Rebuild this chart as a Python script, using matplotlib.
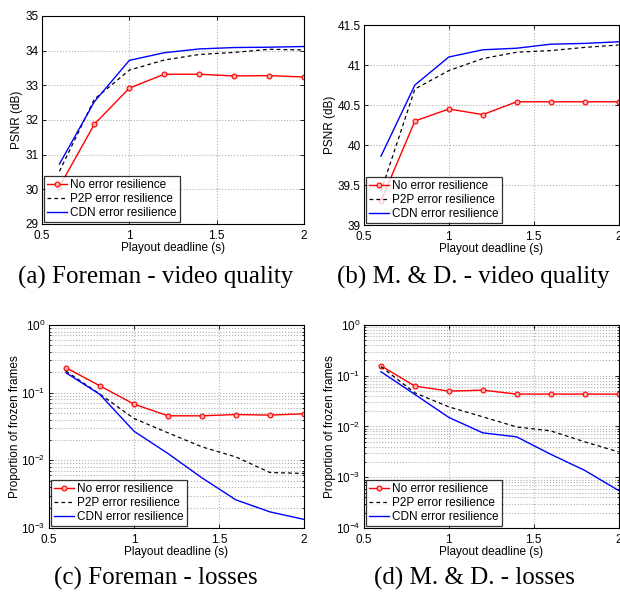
import numpy as np
import matplotlib.pyplot as plt
from matplotlib.ticker import FuncFormatter, LogLocator

plt.rcParams['font.family'] = ['Liberation Sans', 'DejaVu Sans']
plt.rcParams['mathtext.fontset'] = 'custom'
plt.rcParams['mathtext.rm'] = 'Liberation Sans'

# Playout deadlines (s)
deadline = [0.6, 0.8, 1.0, 1.2, 1.4, 1.6, 1.8, 2.0]

# (a) Foreman - PSNR (dB)
foreman_psnr_none = [30.08, 31.88, 32.92, 33.32, 33.32, 33.27, 33.28, 33.24]
foreman_psnr_p2p = [30.52, 32.60, 33.44, 33.73, 33.89, 33.95, 34.04, 34.02]
foreman_psnr_cdn = [30.73, 32.53, 33.72, 33.94, 34.05, 34.09, 34.10, 34.12]

# (b) M. & D. - PSNR (dB)
md_psnr_none = [39.30, 40.30, 40.45, 40.38, 40.54, 40.54, 40.54, 40.54]
md_psnr_p2p = [39.42, 40.70, 40.93, 41.08, 41.16, 41.18, 41.22, 41.25]
md_psnr_cdn = [39.86, 40.75, 41.10, 41.19, 41.21, 41.26, 41.27, 41.29]

# (c) Foreman - proportion of frozen frames
foreman_loss_none = [0.233, 0.126, 0.0676, 0.0455, 0.0455, 0.0475, 0.0466, 0.0487]
foreman_loss_p2p = [0.208, 0.095, 0.0415, 0.0255, 0.0158, 0.0112, 0.0066, 0.0064]
foreman_loss_cdn = [0.197, 0.094, 0.0269, 0.0126, 0.0055, 0.0026, 0.00173, 0.00134]

# (d) M. & D. - proportion of frozen frames
md_loss_none = [0.157, 0.0625, 0.0498, 0.052, 0.0435, 0.0435, 0.0435, 0.0435]
md_loss_p2p = [0.151, 0.046, 0.0244, 0.0155, 0.0098, 0.0082, 0.005, 0.00316]
md_loss_cdn = [0.12, 0.0428, 0.0151, 0.0075, 0.00625, 0.00284, 0.00137, 0.00055]

series_labels = ['No error resilience', 'P2P error resilience', 'CDN error resilience']
captions = ['(a) Foreman - video quality', '(b) M. & D. - video quality',
            '(c) Foreman - losses', '(d) M. & D. - losses']

FS = 8.5
W, H = 620, 594


def axes_rect(left, top, right, bottom):
    return [left/W, 1 - bottom/H, (right - left)/W, (bottom - top)/H]


def style_axes(ax, log=False):
    ax.tick_params(direction='in', which='both', top=True, right=True,
                   labelsize=FS, length=3, width=0.6, pad=2.5)
    ax.tick_params(axis='x', which='both', pad=4)
    ax.tick_params(which='minor', length=1.5)
    ax.grid(True, which='major', linestyle=':', color='#b0b0b0', linewidth=0.8)
    if log:
        ax.grid(True, which='minor', linestyle=':', color='#b0b0b0', linewidth=0.8)
    for s in ax.spines.values():
        s.set_linewidth(0.8)
    ax.set_xlim(0.5, 2)
    ax.set_xticks([0.5, 1, 1.5, 2])
    ax.xaxis.set_major_formatter(FuncFormatter(lambda v, p: '%g' % v))
    ax.set_xlabel('Playout deadline (s)', fontsize=FS, labelpad=0)


def draw(ax, none, p2p, cdn, log=False):
    plot = ax.semilogy if log else ax.plot
    plot(deadline, none, color='#ff0000', lw=1.0, marker='o', ms=3.5,
         mfc='#ffb0b0', mec='#ff0000', mew=0.8, label=series_labels[0])
    plot(deadline, p2p, color='black', lw=0.9, ls=(0, (3, 2.5)), label=series_labels[1])
    plot(deadline, cdn, color='#0000ff', lw=1.0, label=series_labels[2])
    leg = ax.legend(loc='lower left', fontsize=FS, frameon=True, fancybox=False,
                    borderaxespad=0.15, handlelength=1.7, handletextpad=0.25,
                    labelspacing=0.15, borderpad=0.3)
    leg.get_frame().set_edgecolor('black')
    leg.get_frame().set_linewidth(0.9)
    style_axes(ax, log)


fig = plt.figure(figsize=(6.2, 5.94), dpi=100)

ax_a = fig.add_axes(axes_rect(42, 16, 304, 224))
draw(ax_a, foreman_psnr_none, foreman_psnr_p2p, foreman_psnr_cdn)
ax_a.set_ylim(29, 35)
ax_a.set_yticks(np.arange(29, 36, 1))
ax_a.set_ylabel('PSNR (dB)', fontsize=FS, labelpad=2)

ax_b = fig.add_axes(axes_rect(364, 25, 618.5, 225))
draw(ax_b, md_psnr_none, md_psnr_p2p, md_psnr_cdn)
ax_b.set_ylim(39, 41.5)
ax_b.set_yticks(np.arange(39, 41.6, 0.5))
ax_b.yaxis.set_major_formatter(FuncFormatter(lambda v, p: '%g' % v))
ax_b.set_ylabel('PSNR (dB)', fontsize=FS, labelpad=1)

ax_c = fig.add_axes(axes_rect(49, 325, 304, 528))
draw(ax_c, foreman_loss_none, foreman_loss_p2p, foreman_loss_cdn, log=True)
ax_c.set_ylim(1e-3, 1)
ax_c.set_ylabel('Proportion of frozen frames', fontsize=FS, labelpad=0)

ax_d = fig.add_axes(axes_rect(364, 325, 618.5, 528))
draw(ax_d, md_loss_none, md_loss_p2p, md_loss_cdn, log=True)
ax_d.set_ylim(1e-4, 1)
ax_d.set_ylabel('Proportion of frozen frames', fontsize=FS, labelpad=0)

for ax in (ax_c, ax_d):
    ax.yaxis.set_major_locator(LogLocator(base=10, numticks=10))
    ax.yaxis.set_minor_locator(LogLocator(base=10, subs=np.arange(2, 10), numticks=20))

cap_pos = [(156, 277), (473, 277), (156, 578), (474, 578)]
for text, (cx, cy) in zip(captions, cap_pos):
    fig.text(cx/W, 1 - cy/H, text, ha='center', va='center',
             family='Liberation Serif', fontsize=18)

fig.savefig('out.png', dpi=100)
